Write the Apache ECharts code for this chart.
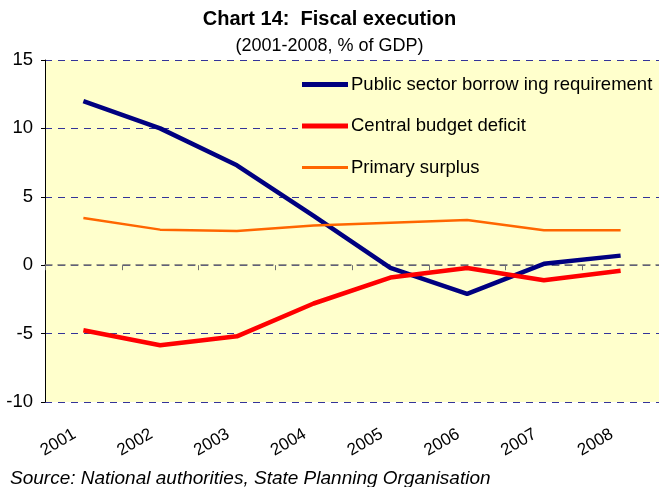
<!DOCTYPE html>
<html>
<head>
<meta charset="utf-8">
<script src="https://cdn.jsdelivr.net/npm/echarts@6/dist/echarts.min.js"></script>
<style>
  html, body { margin: 0; padding: 0; background: #fff; }
  #chart { width: 659px; height: 487px; }
</style>
</head>
<body>
<div id="chart"></div>
<script>
// data
const years = ['2001', '2002', '2003', '2004', '2005', '2006', '2007', '2008']
const psbr = [12.0, 10.0, 7.3, 3.6, -0.2, -2.1, 0.1, 0.7]
const budgetDeficit = [-4.75, -5.85, -5.2, -2.8, -0.9, -0.2, -1.1, -0.4]
const primarySurplus = [3.45, 2.6, 2.5, 2.9, 3.1, 3.3, 2.55, 2.55]

const font = '"Liberation Sans", Arial, sans-serif'
const chart = echarts.init(document.getElementById('chart'))

chart.setOption({
  animation: false,
  title: [
    {
      text: 'Chart 14:  Fiscal execution',
      left: 'center',
      top: 4,
      textStyle: { fontFamily: font, fontSize: 20, fontWeight: 'bold', color: '#000' }
    },
    {
      text: '(2001-2008, % of GDP)',
      left: 'center',
      top: 32,
      textStyle: { fontFamily: font, fontSize: 18, fontWeight: 'normal', color: '#000' }
    },
    {
      text: 'Source: National authorities, State Planning Organisation',
      left: 5,
      top: 464,
      textStyle: { fontFamily: font, fontSize: 19, fontStyle: 'italic', fontWeight: 'normal', color: '#000' }
    }
  ],
  legend: {
    orient: 'vertical',
    left: 298,
    top: 70,
    padding: [5, 8, 8, 4],
    backgroundColor: '#FFFFCC',
    itemGap: 22.5,
    itemWidth: 46,
    itemHeight: 12,
    textStyle: { fontFamily: font, fontSize: 18.5, color: '#000', padding: [0, 0, 0, -2] },
    data: [
      { name: 'Public sector borrow ing requirement', icon: 'path://M0,0h46v5h-46z' },
      { name: 'Central budget deficit', icon: 'path://M0,0h46v5h-46z' },
      { name: 'Primary surplus', icon: 'path://M0,0h46v3h-46z' }
    ]
  },
  grid: {
    left: 45,
    right: 0,
    top: 60,
    bottom: 85,
    show: true,
    backgroundColor: '#FFFFCC',
    borderWidth: 0
  },
  xAxis: [
    {
      type: 'category',
      data: years,
      boundaryGap: true,
      position: 'bottom',
      axisLine: { show: false, onZero: false },
      axisTick: { show: false },
      axisLabel: { rotate: 30, margin: 26, padding: [0, 10, 0, 0], fontFamily: font, fontSize: 17, color: '#000' }
    },
    {
      type: 'category',
      data: years,
      boundaryGap: true,
      position: 'bottom',
      axisLine: { show: true, onZero: true, lineStyle: { color: '#707070', type: [7, 6], width: 1.5 } },
      axisTick: { show: true, length: 5, inside: false, lineStyle: { color: '#707070' } },
      axisLabel: { show: false },
      splitLine: { show: false }
    }
  ],
  yAxis: {
    type: 'value',
    min: -10,
    max: 15,
    interval: 5,
    axisLine: { show: true, lineStyle: { color: '#000', width: 1 } },
    axisTick: { show: true, length: 4, lineStyle: { color: '#000' } },
    axisLabel: { margin: 12, fontFamily: font, fontSize: 18.5, color: '#000' },
    splitLine: {
      show: true,
      lineStyle: { color: '#333399', type: [7, 6], width: 1 }
    }
  },
  series: [
    {
      name: 'Public sector borrow ing requirement',
      type: 'line',
      data: psbr,
      symbol: 'none',
      lineStyle: { color: '#000080', width: 4.5 },
      itemStyle: { color: '#000080' }
    },
    {
      name: 'Central budget deficit',
      type: 'line',
      data: budgetDeficit,
      symbol: 'none',
      lineStyle: { color: '#FF0000', width: 4.5 },
      itemStyle: { color: '#FF0000' }
    },
    {
      name: 'Primary surplus',
      type: 'line',
      data: primarySurplus,
      symbol: 'none',
      lineStyle: { color: '#FF6600', width: 2.5 },
      itemStyle: { color: '#FF6600' }
    }
  ]
})
</script>
</body>
</html>
